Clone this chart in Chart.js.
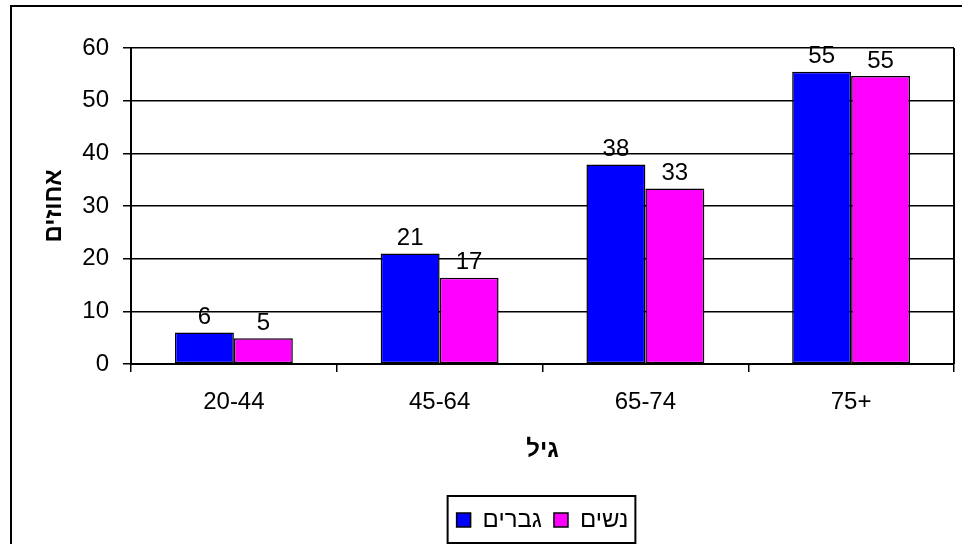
<!DOCTYPE html>
<html>
<head>
<meta charset="utf-8">
<script src="https://cdn.jsdelivr.net/npm/chart.js@4.4.0/dist/chart.umd.min.js"></script>
<style>
    html, body { margin: 0; padding: 0; background: #fff; overflow: hidden; }
    #frame { position: absolute; left: 10px; top: 5px; width: 980px; height: 600px; border: 2px solid #000; }
    #myChart { position: absolute; left: 0; top: 0; }
</style>
</head>
<body>
<div id="frame"></div>
<canvas id="myChart" width="962" height="544"></canvas>
<script>
// data
const ageGroups = ["20-44", "45-64", "65-74", "75+"];
const menValues = [6.0, 21.0, 37.9, 55.5];
const womenValues = [4.9, 16.4, 33.3, 54.7];
const menLabels = ["6", "21", "38", "55"];
const womenLabels = ["5", "17", "33", "55"];
const seriesNames = ["גברים", "נשים"];
const yTicks = [0, 10, 20, 30, 40, 50, 60];

const FONT = "'Liberation Sans', Arial, 'DejaVu Sans', sans-serif";

// value labels above each bar
const barLabels = {
    id: "barLabels",
    afterDatasetsDraw(chart) {
        const ctx = chart.ctx;
        const texts = [menLabels, womenLabels];
        ctx.save();
        ctx.font = "24px " + FONT;
        ctx.fillStyle = "#000";
        ctx.textAlign = "center";
        ctx.textBaseline = "bottom";
        chart.data.datasets.forEach(function (ds, i) {
            chart.getDatasetMeta(i).data.forEach(function (bar, j) {
                ctx.fillText(texts[i][j], bar.x, bar.y - 3);
            });
        });
        ctx.restore();
    }
};

// legend centred under the plot area, not the whole canvas
// (the legend plugin recomputes its hit boxes later, in afterUpdate)
const centreLegend = {
    id: "centreLegend",
    afterLayout(chart) {
        const lg = chart.legend;
        const a = chart.chartArea;
        const shift = (a.left + a.right) / 2 - (lg.left + lg.right) / 2;
        lg.left += shift;
        lg.right += shift;
    }
};

// right edge of the plot area and the box round the legend
const frames = {
    id: "frames",
    afterDraw(chart) {
        const ctx = chart.ctx;
        const a = chart.chartArea;
        ctx.save();
        ctx.strokeStyle = "#000";
        ctx.lineWidth = 2;
        ctx.beginPath();
        ctx.moveTo(a.right, a.top);
        ctx.lineTo(a.right, a.bottom);
        ctx.stroke();

        const boxes = chart.legend.legendHitBoxes;
        if (boxes && boxes.length) {
            let l = Infinity, r = -Infinity, cy = 0;
            boxes.forEach(function (b) {
                l = Math.min(l, b.left);
                r = Math.max(r, b.left + b.width);
                cy = b.top + b.height / 2;
            });
            ctx.strokeRect(l - 9, cy - 24, (r - l) + 16, 47);
        }
        ctx.restore();
    }
};

const data = {
    labels: ageGroups,
    datasets: [{
        label: seriesNames[0],
        data: menValues,
        backgroundColor: "#0000ff",
        borderColor: "#000",
        borderWidth: 1.5,
        borderSkipped: false,
        categoryPercentage: 0.573,
        barPercentage: 1.0
    }, {
        label: seriesNames[1],
        data: womenValues,
        backgroundColor: "#ff00ff",
        borderColor: "#000",
        borderWidth: 1.5,
        borderSkipped: false,
        categoryPercentage: 0.573,
        barPercentage: 1.0
    }]
};

const config = {
    type: "bar",
    data: data,
    options: {
        responsive: false,
        animation: false,
        layout: {
            padding: { top: 48, right: 8, bottom: 2, left: 0 }
        },
        plugins: {
            tooltip: { enabled: false },
            legend: {
                position: "bottom",
                labels: {
                    font: { family: FONT, size: 24 },
                    color: "#000",
                    boxWidth: 14,
                    boxHeight: 14,
                    padding: 12,
                    generateLabels(chart) {
                        return chart.data.datasets.map(function (ds, i) {
                            return {
                                text: ds.label,
                                fillStyle: ds.backgroundColor,
                                strokeStyle: "#000",
                                lineWidth: 1.5,
                                datasetIndex: i
                            };
                        });
                    }
                }
            }
        },
        scales: {
            x: {
                offset: true,
                grid: {
                    display: true,
                    offset: true,
                    drawOnChartArea: false,
                    color: "#000",
                    lineWidth: 1.5,
                    tickLength: 8
                },
                border: { color: "#000", width: 2 },
                ticks: {
                    font: { family: FONT, size: 24 },
                    color: "#000",
                    padding: 16,
                    maxRotation: 0
                },
                title: {
                    display: true,
                    text: "גיל",
                    font: { family: FONT, size: 24, weight: "bold" },
                    color: "#000",
                    padding: { top: 0, bottom: 31 }
                },
                afterFit(scale) { scale.height = 132; }
            },
            y: {
                min: 0,
                max: 60,
                afterBuildTicks(scale) {
                    scale.ticks = yTicks.map(function (v) { return { value: v }; });
                },
                grid: {
                    color: "#000",
                    lineWidth: 1.5,
                    tickLength: 8
                },
                border: { color: "#000", width: 2 },
                ticks: {
                    font: { family: FONT, size: 24 },
                    color: "#000",
                    padding: 14
                },
                title: {
                    display: true,
                    text: "אחוזים",
                    font: { family: FONT, size: 24, weight: "bold" },
                    color: "#000",
                    padding: { top: 40, bottom: 0 }
                },
                afterFit(scale) { scale.width = 131; }
            }
        }
    },
    plugins: [barLabels, centreLegend, frames]
};

new Chart(document.getElementById("myChart"), config);
</script>
</body>
</html>
